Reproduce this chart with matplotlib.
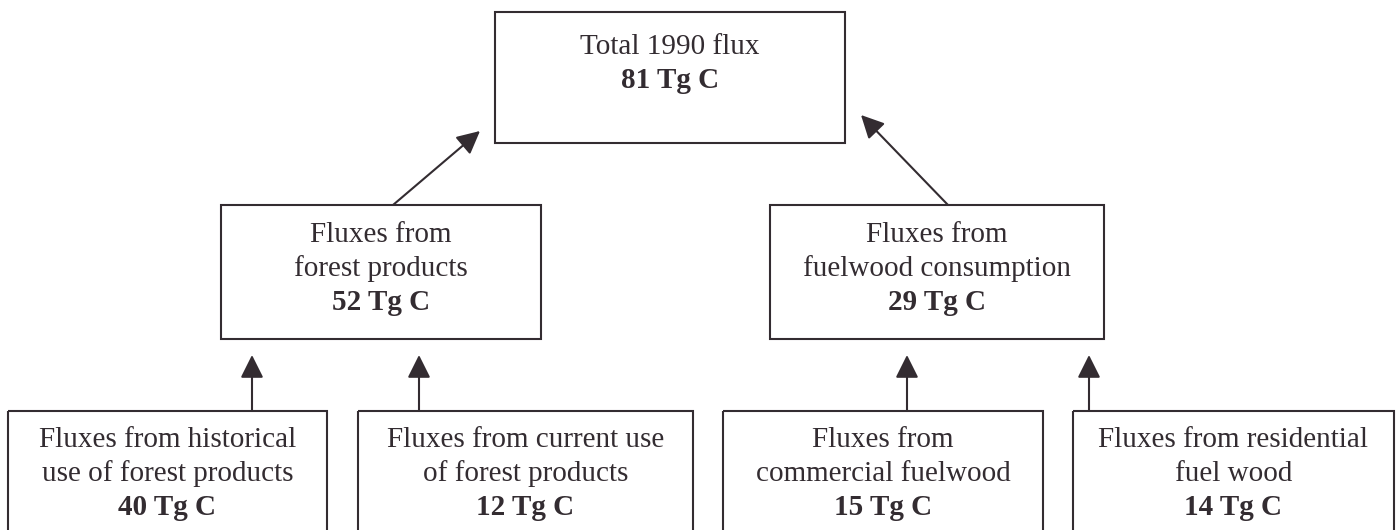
import matplotlib
matplotlib.use("Agg")
import matplotlib.pyplot as plt
from matplotlib.patches import Rectangle

# ---- data ----
top_label = ["Total 1990 flux"]
top_value = 81
mid_labels = [["Fluxes from", "forest products"],
              ["Fluxes from", "fuelwood consumption"]]
mid_values = [52, 29]
bottom_labels = [["Fluxes from historical", "use of forest products"],
                 ["Fluxes from current use", "of forest products"],
                 ["Fluxes from", "commercial fuelwood"],
                 ["Fluxes from residential", "fuel wood"]]
bottom_values = [40, 12, 15, 14]
unit = "Tg C"

# ---- layout (pixel space) ----
W, H = 1399, 530
COL = "#332c31"
FS = 21
LW = 1.5

fig = plt.figure(figsize=(W / 100, H / 100), dpi=100)
ax = fig.add_axes([0, 0, 1, 1])
ax.set_xlim(0, W)
ax.set_ylim(H, 0)
ax.axis("off")

def box(x0, y0, x1, y1):
    ax.add_patch(Rectangle((x0, y0), x1 - x0, y1 - y0, fill=False,
                           edgecolor=COL, linewidth=LW, clip_on=False))

def lines(xc, baselines, texts, bold_last=True):
    for i, (y, t) in enumerate(zip(baselines, texts)):
        ax.text(xc, y, t, ha="center", va="baseline", fontsize=FS,
                family=["Liberation Serif"], color=COL,
                fontweight="bold" if (bold_last and i == len(texts) - 1) else "normal")

def arrow(x0, y0, x1, y1):
    ax.annotate("", xy=(x1, y1), xytext=(x0, y0),
                arrowprops=dict(arrowstyle="-|>,head_length=0.7,head_width=0.35",
                                mutation_scale=20, color=COL, lw=LW,
                                shrinkA=0, shrinkB=0))

# top box
top_box = (495, 12, 845, 143)
box(*top_box)
lines((top_box[0] + top_box[2]) / 2, [54, 88],
      top_label + [f"{top_value} {unit}"])

# middle boxes
mid_boxes = [(221, 205, 541, 339), (770, 205, 1104, 339)]
for b, lab, v in zip(mid_boxes, mid_labels, mid_values):
    box(*b)
    lines((b[0] + b[2]) / 2, [242, 276, 310], lab + [f"{v} {unit}"])

# bottom boxes (open at the bottom edge of the figure)
bottom_boxes = [(8, 411, 327, 545), (358, 411, 693, 545),
                (723, 411, 1043, 545), (1073, 411, 1394, 545)]
for b, lab, v in zip(bottom_boxes, bottom_labels, bottom_values):
    box(*b)
    lines((b[0] + b[2]) / 2, [447, 481, 515], lab + [f"{v} {unit}"])

# vertical arrows bottom -> middle
arrow_x = [252, 419, 907, 1089]
for x in arrow_x:
    arrow(x, 411, x, 355)

# diagonal arrows middle -> top
arrow(393, 205, 480, 131)
arrow(948, 205, 861, 115)

fig.savefig("out.png", dpi=100)
